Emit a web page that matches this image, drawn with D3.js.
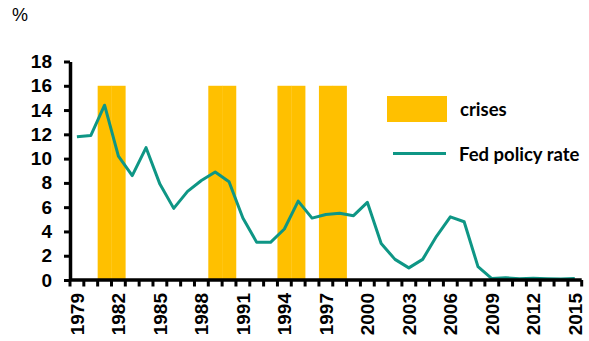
<!DOCTYPE html>
<html><head><meta charset="utf-8">
<script src="https://cdn.jsdelivr.net/npm/d3@7"></script>
<style>body{margin:0;background:#fff}svg{display:block}</style>
</head><body>
<script>
const years = d3.range(1979, 2016).map(String);
const fedRate = [11.8,11.9,14.4,10.2,8.6,10.9,7.9,5.9,7.3,8.2,8.9,8.1,5.1,3.1,3.1,4.2,6.5,5.1,5.4,5.5,5.3,6.4,3.0,1.7,1.0,1.7,3.6,5.2,4.8,1.1,0.12,0.18,0.1,0.14,0.11,0.09,0.13];
const crisisYears = ["1981","1982","1989","1990","1994","1995","1997","1998"];
const crisisValue = 16;
const yTicks = [0,2,4,6,8,10,12,14,16,18];
const xLabels = years.filter((d,i)=>i%3===0);

const W=589,H=341;
const svg=d3.select("body").append("svg").attr("width",W).attr("height",H);
const x=d3.scaleBand().domain(years).range([70,581.7]).padding(0);
const y=d3.scaleLinear().domain([0,18]).range([280,61.5]);

// crisis bars
svg.selectAll("rect.crisis").data(crisisYears).join("rect")
  .attr("x",d=>x(d)).attr("width",x.bandwidth()+0.3)
  .attr("y",y(crisisValue)).attr("height",y(0)-y(crisisValue))
  .attr("fill","#FFC000");

// line
const line=d3.line().x((d,i)=>x(years[i])+x.bandwidth()/2).y(d=>y(d));
svg.append("path").datum(fedRate).attr("d",line)
  .attr("fill","none").attr("stroke","#0E9685").attr("stroke-width",3).attr("stroke-linejoin","round");

// y axis
const yAxis=svg.append("g").attr("transform","translate(70,0)")
  .call(d3.axisLeft(y).tickValues(yTicks).tickSize(6).tickPadding(12).tickSizeOuter(0));
yAxis.select(".domain").attr("stroke","#000").attr("stroke-width",3.5);
yAxis.selectAll(".tick line").attr("stroke","#000").attr("stroke-width",3);
yAxis.selectAll(".tick text").attr("font-family","Liberation Sans, Arial, sans-serif").attr("font-weight","bold").attr("font-size","19px").attr("fill","#000");

// x axis
const xAxis=svg.append("g").attr("transform","translate(0,280)")
  .call(d3.axisBottom(x).tickValues([]).tickSizeOuter(0));
xAxis.select(".domain").attr("stroke","#000").attr("stroke-width",3.5).attr("d","M70,0H581.7");
const bounds=years.map(d=>x(d)).concat([x(years[years.length-1])+x.bandwidth()]);
xAxis.selectAll("line.bt").data(bounds).join("line").attr("class","bt")
  .attr("x1",d=>d).attr("x2",d=>d).attr("y1",0).attr("y2",6.5)
  .attr("stroke","#000").attr("stroke-width",3);
xAxis.selectAll("text.xl").data(xLabels).join("text").attr("class","xl")
  .attr("transform",d=>`translate(${x(d)+x.bandwidth()/2+6.8},${13}) rotate(-90)`)
  .attr("text-anchor","end").attr("fill","#000")
  .attr("font-family","Liberation Sans, Arial, sans-serif").attr("font-weight","bold").attr("font-size","19px")
  .text(d=>d);

// % label
svg.append("text").attr("x",12).attr("y",21).attr("font-family","Liberation Sans, Arial, sans-serif")
  .attr("font-size","18px").attr("fill","#000").text("%");

// legend
const lg=svg.append("g");
lg.append("rect").attr("x",387).attr("y",96).attr("width",60).attr("height",26).attr("fill","#FFC000");
lg.append("text").attr("x",460).attr("y",116).attr("font-family","Lato, Open Sans, sans-serif").attr("font-weight","bold").attr("font-size","18.5px").text("crises");
lg.append("line").attr("x1",393).attr("x2",446).attr("y1",153.5).attr("y2",153.5).attr("stroke","#0E9685").attr("stroke-width",3);
lg.append("text").attr("x",459).attr("y",161).attr("font-family","Lato, Open Sans, sans-serif").attr("font-weight","bold").attr("font-size","18.5px").text("Fed policy rate");
</script>
</body></html>
